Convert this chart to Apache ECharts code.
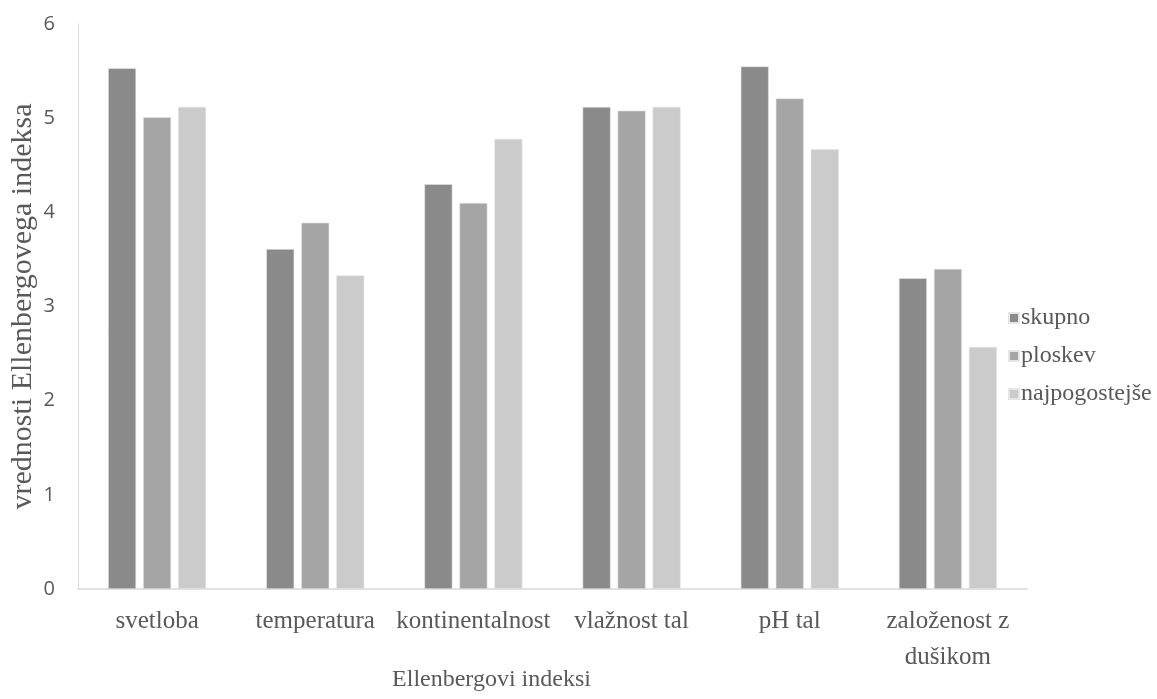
<!DOCTYPE html>
<html>
<head>
<meta charset="utf-8">
<script src="https://cdn.jsdelivr.net/npm/echarts@6/dist/echarts.min.js"></script>
<style>
  html, body { margin: 0; padding: 0; background: #fff; }
  #chart { width: 1157px; height: 699px; }
</style>
</head>
<body>
<div id="chart"></div>
<script>
// Ellenberg indicator values per index
const categories = ['svetloba', 'temperatura', 'kontinentalnost', 'vlažnost tal', 'pH tal', 'založenost z\ndušikom'];
const skupno = [5.53, 3.61, 4.30, 5.12, 5.55, 3.30];
const ploskev = [5.01, 3.89, 4.10, 5.08, 5.21, 3.40];
const najpogostejse = [5.12, 3.33, 4.78, 5.12, 4.67, 2.57];
const yTicks = [0, 1, 2, 3, 4, 5, 6];

const serif = '"Liberation Serif", "Times New Roman", serif';
const sans = '"Open Sans", "Noto Sans", sans-serif';
const textColor = '#595959';

function barSeries(name, data, color) {
  return {
    name: name,
    type: 'bar',
    data: data,
    barWidth: 28,
    barGap: '25%',
    itemStyle: { color: color, borderColor: '#e6e6e6', borderWidth: 0.6 }
  };
}

const chart = echarts.init(document.getElementById('chart'), null, { renderer: 'canvas' });
chart.setOption({
  animation: false,
  backgroundColor: '#ffffff',
  grid: { left: 78, right: 130, top: 24, bottom: 110, containLabel: false, outerBoundsMode: 'none' },
  legend: {
    orient: 'vertical',
    left: 1003,
    top: 301,
    itemWidth: 10,
    itemHeight: 10,
    itemGap: 14,
    icon: 'rect',
    textStyle: { fontFamily: serif, fontSize: 24, lineHeight: 24, color: textColor, padding: [0, 0, 0, -3] },
    data: ['skupno', 'ploskev', 'najpogostejše']
  },
  xAxis: {
    type: 'category',
    data: categories,
    name: 'Ellenbergovi indeksi',
    nameLocation: 'middle',
    nameGap: 79,
    nameMoveOverlap: false,
    nameTextStyle: { fontFamily: serif, fontSize: 24, color: textColor, padding: [0, 122, 0, 0] },
    axisLine: { show: true, lineStyle: { color: '#d9d9d9', width: 1.5 } },
    axisTick: { show: false },
    axisLabel: { fontFamily: serif, fontSize: 25, color: textColor, margin: 14, lineHeight: 36, interval: 0 },
    splitLine: { show: false }
  },
  yAxis: {
    type: 'value',
    min: yTicks[0],
    max: yTicks[yTicks.length - 1],
    interval: 1,
    name: 'vrednosti Ellenbergovega indeksa',
    nameLocation: 'middle',
    nameGap: 40,
    nameRotate: 90,
    nameMoveOverlap: false,
    nameTextStyle: { fontFamily: serif, fontSize: 30, color: textColor },
    axisLine: { show: true, lineStyle: { color: '#d9d9d9', width: 1 } },
    axisTick: { show: false },
    axisLabel: { fontFamily: sans, fontSize: 20, color: textColor, margin: 23 },
    splitLine: { show: false }
  },
  series: [
    barSeries('skupno', skupno, '#8a8a8a'),
    barSeries('ploskev', ploskev, '#a5a5a5'),
    barSeries('najpogostejše', najpogostejse, '#cbcbcb')
  ]
});
</script>
</body>
</html>
